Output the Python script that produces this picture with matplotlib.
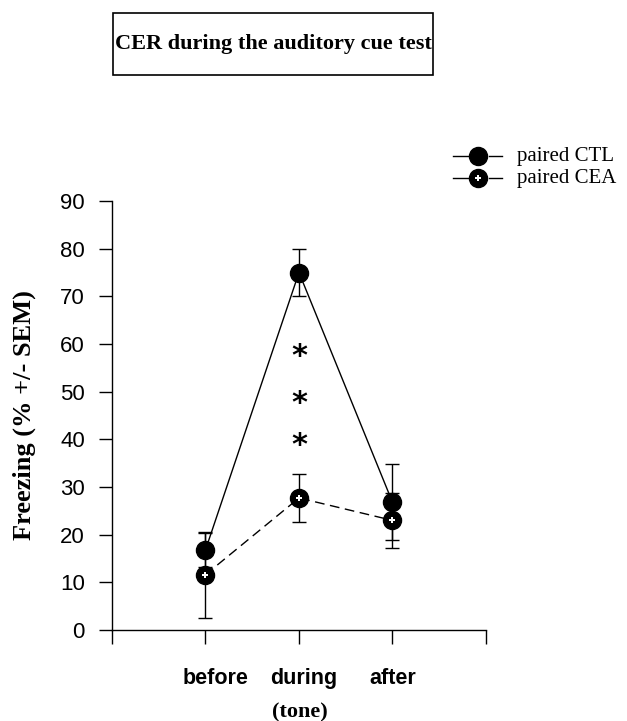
import numpy as np
import matplotlib.pyplot as plt
import matplotlib.transforms as mtrans
from matplotlib.patches import Rectangle
from matplotlib.lines import Line2D

# Data
phases = ['before', 'during', 'after']
ctl_mean = [16.8, 75.0, 26.8]
ctl_sem = [3.5, 5.0, 8.0]
cea_mean = [11.6, 27.7, 23.0]
cea_sem = [9.0, 5.0, 5.8]
star_y = [58.7, 48.8, 40.0]
series_names = ['paired CTL', 'paired CEA']

x = np.arange(1, len(phases) + 1)

fig = plt.figure(figsize=(6.27, 7.21), dpi=100)
ax = fig.add_axes([0.1786, 0.1262, 0.5965, 0.595])

ax.errorbar(x, ctl_mean, yerr=ctl_sem, color='black', lw=1.0, elinewidth=1.0,
            capsize=5, capthick=1.0, marker='o', ms=13, mfc='black', mec='black', zorder=3)
ax.errorbar(x, cea_mean, yerr=cea_sem, color='black', lw=1.0, elinewidth=1.0,
            capsize=5, capthick=1.0, ls=(0, (7, 4)), marker='o', ms=13,
            mfc='black', mec='black', zorder=4)
ax.plot(x, cea_mean, ls='none', marker='P', ms=5, mfc='white', mec='white', mew=0, zorder=5)

# significance stars
star_tr = mtrans.offset_copy(ax.transData, fig=fig, y=-6, units='dots')
for yy in star_y:
    ax.text(2, yy, '*', ha='center', va='center', fontsize=22, fontweight='bold',
            fontfamily='DejaVu Sans', transform=star_tr)

ax.set_xlim(0, 4)
ax.set_ylim(0, 90)
ax.set_xticks([0, 1, 2, 3, 4])
ax.set_xticklabels(['', *phases, ''], fontsize=15.5,
                   fontweight='bold', fontfamily='Liberation Sans')
ax.set_yticks(np.arange(0, 91, 10))
ax.set_yticklabels([str(v) for v in range(0, 91, 10)], fontsize=16, fontfamily='Liberation Sans')
ax.tick_params(axis='x', length=10, width=1, pad=17)
ax.tick_params(axis='y', length=9.5, width=1, pad=10)
for s in ['top', 'right']:
    ax.spines[s].set_visible(False)
for s in ['left', 'bottom']:
    ax.spines[s].set_linewidth(1.0)

# small horizontal nudges of the category labels as in the original
nudges = [0, 10, 5, 0, 0]
for lab, dx in zip(ax.get_xticklabels(), nudges):
    lab.set_transform(lab.get_transform() + mtrans.ScaledTranslation(dx / 100, 0, fig.dpi_scale_trans))

ax.set_ylabel('Freezing (% +/- SEM)', fontsize=19, fontweight='bold',
              fontfamily='Liberation Serif', labelpad=17)
fig.text(0.478, 0.0125, '(tone)', ha='center', va='center', fontsize=16,
         fontweight='bold', fontfamily='Liberation Serif')

# Title box
fig.patches.append(Rectangle((0.180, 0.896), 0.511, 0.086, transform=fig.transFigure,
                             fill=False, edgecolor='black', lw=1.2))
fig.text(0.4355, 0.939, 'CER during the auditory cue test', ha='center', va='center',
         fontsize=16, fontweight='bold', fontfamily='Liberation Serif')

# Legend (figure-fraction layout)
leg_y = [1 - 156 / 721, 1 - 178 / 721]
for i, (name, yy) in enumerate(zip(series_names, leg_y)):
    fig.add_artist(Line2D([453 / 627, 468 / 627], [yy, yy], color='black', lw=1.0,
                          transform=fig.transFigure))
    fig.add_artist(Line2D([489 / 627, 502 / 627], [yy, yy], color='black', lw=1.0,
                          transform=fig.transFigure))
    fig.add_artist(Line2D([478 / 627], [yy], marker='o', ms=13, color='black',
                          transform=fig.transFigure))
    if i == 1:
        fig.add_artist(Line2D([478 / 627], [yy], marker='P', ms=5, mfc='white', mec='white',
                              mew=0, transform=fig.transFigure))
    fig.text(517 / 627, yy, name, va='center', ha='left', fontsize=15,
             fontfamily='Liberation Serif')

fig.savefig('out.png', dpi=100)
